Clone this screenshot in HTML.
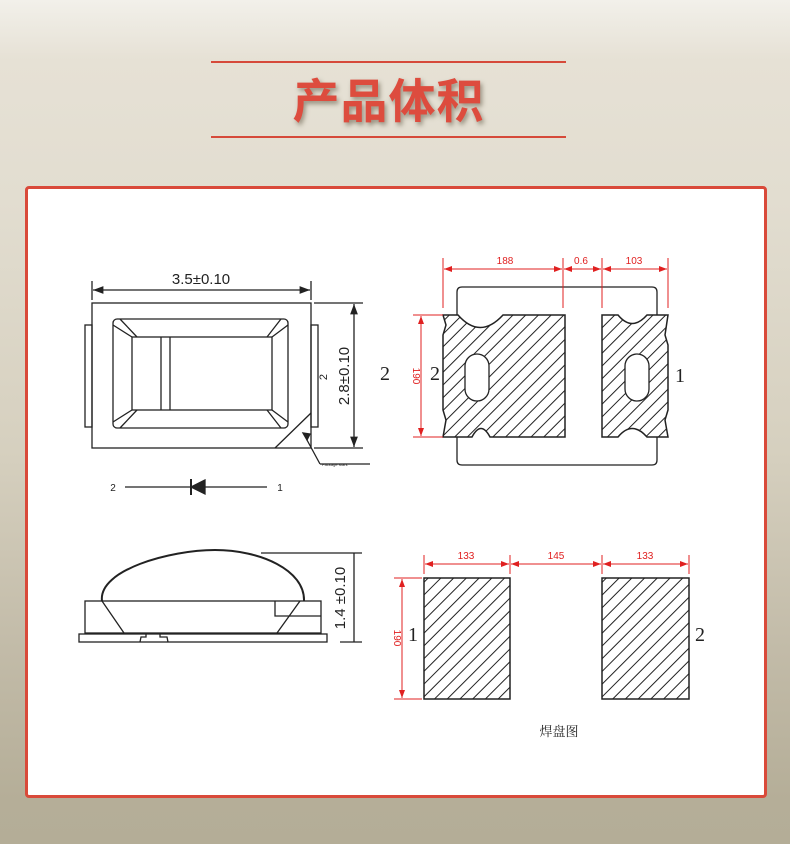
<!DOCTYPE html>
<html><head><meta charset="utf-8"><style>
html,body{margin:0;padding:0}
body{width:790px;height:844px;position:relative;overflow:hidden;background:linear-gradient(#f2f0ea 0px,#e6e1d5 60px,#e2ddd0 200px,#d6d0bf 450px,#c2bba8 650px,#b5ae98 800px,#b4ad97 844px);font-family:"Liberation Sans","Noto Sans CJK SC",sans-serif}
.ln{position:absolute;left:211px;width:355px;height:2px;background:#d64a3a}
.title{position:absolute;left:211px;width:355px;top:70px;text-align:center;font-size:47px;font-weight:bold;color:#dd4c3e;letter-spacing:1px;text-shadow:2px 3px 5px rgba(90,80,60,.55);font-family:"Noto Sans CJK SC",sans-serif;line-height:56px}
.panel{position:absolute;left:25px;top:186px;width:736px;height:606px;background:#fff;border:3px solid #d94a3a;border-radius:4px}
svg{position:absolute;left:0;top:0}
</style></head><body>
<div class="ln" style="top:61px"></div>
<div class="title">产品体积</div>
<div class="ln" style="top:136px"></div>
<div class="panel"></div>
<svg width="790" height="844" viewBox="0 0 790 844">
<defs>
<pattern id="h" patternUnits="userSpaceOnUse" width="9" height="9" patternTransform="rotate(45)">
<rect width="9" height="9" fill="#fff"/><line x1="0" y1="0" x2="0" y2="9" stroke="#222" stroke-width="2"/>
</pattern>
<marker id="a" markerWidth="8" markerHeight="6" refX="8" refY="3" orient="auto-start-reverse"><path d="M0,0 L8,3 L0,6z" fill="#e02020"/></marker>
<marker id="k" markerWidth="8" markerHeight="6" refX="8" refY="3" orient="auto-start-reverse"><path d="M0,0 L8,3 L0,6z" fill="#222"/></marker>
</defs>
<g fill="none" stroke="#222" stroke-width="1.3">
<!-- top view -->
<line x1="92" y1="281" x2="92" y2="300"/><line x1="311" y1="281" x2="311" y2="300"/>
<line x1="93" y1="290" x2="310" y2="290" marker-start="url(#k)" marker-end="url(#k)"/>
<rect x="92" y="303" width="219" height="145"/>
<rect x="85" y="325" width="7" height="102"/><rect x="311" y="325" width="7" height="102"/>
<rect x="113" y="319" width="175" height="109" rx="4"/>
<rect x="132" y="337" width="140" height="73"/>
<line x1="161" y1="337" x2="161" y2="410"/><line x1="170" y1="337" x2="170" y2="410"/>
<path d="M113,325 L132,337 M120,319 L137,337 M288,325 L272,337 M281,319 L267,337 M113,422 L132,410 M120,428 L137,410 M288,422 L272,410 M281,428 L267,410"/>
<line x1="275" y1="448" x2="311" y2="413"/>
<path d="M320,464 L307,440 M320,464 L370,464"/>
<path d="M303,433 l4,7 l3,-6z" fill="#222"/>
<line x1="314" y1="303" x2="363" y2="303"/><line x1="314" y1="448" x2="363" y2="448"/>
<line x1="354" y1="304" x2="354" y2="447" marker-start="url(#k)" marker-end="url(#k)"/>
<line x1="125" y1="487" x2="267" y2="487" stroke-width="1.2"/>
<path d="M205,480 L191,487 L205,494z" fill="#222"/><line x1="191" y1="479" x2="191" y2="495" stroke-width="2"/>
<!-- side view -->
<rect x="79" y="634" width="248" height="8"/>
<rect x="85" y="601" width="236" height="32"/>
<path d="M102,601 C98,570 170,550 215,550 C260,550 305,570 304,601" stroke-width="2"/>
<path d="M102,601 L124,633 M300,601 L277,633"/>
<path d="M275,601 L275,616 L321,616"/>
<path d="M140,642 L141,637 L146,637 L146,634 M160,634 L160,637 L167,637 L168,642"/>
<line x1="261" y1="553" x2="362" y2="553"/><line x1="340" y1="642" x2="362" y2="642"/>
<line x1="354" y1="553" x2="354" y2="642"/>
<!-- pad layout top-right -->
<path d="M457,315 L457,292 Q457,287 462,287 L652,287 Q657,287 657,292 L657,315 M457,437 L457,460 Q457,465 462,465 L652,465 Q657,465 657,460 L657,437"/>
<path d="M443,315 L458,315 Q480,340 503,315 L565,315 L565,437 L490,437 Q481,420 472,437 L443,437 L446,420 L443,410 L443,335 L446,325 Z" fill="url(#h)" stroke-width="1.5"/>
<rect x="465" y="354" width="24" height="47" rx="12" fill="#fff"/>
<path d="M602,315 L618,315 Q632,332 647,315 L668,315 L665,335 L668,345 L668,410 L665,420 L668,437 L647,437 Q632,420 618,437 L602,437 Z" fill="url(#h)" stroke-width="1.5"/>
<rect x="625" y="354" width="24" height="47" rx="12" fill="#fff"/>
<!-- bottom pads -->
<rect x="424" y="578" width="86" height="121" fill="url(#h)" stroke-width="1.5"/>
<rect x="602" y="578" width="87" height="121" fill="url(#h)" stroke-width="1.5"/>
</g>
<g fill="none" stroke="#e02020" stroke-width="1">
<line x1="443" y1="258" x2="443" y2="308"/><line x1="563" y1="258" x2="563" y2="308"/><line x1="602" y1="258" x2="602" y2="308"/><line x1="668" y1="258" x2="668" y2="308"/>
<line x1="444" y1="269" x2="562" y2="269" marker-start="url(#a)" marker-end="url(#a)"/>
<line x1="564" y1="269" x2="601" y2="269" marker-start="url(#a)" marker-end="url(#a)"/>
<line x1="603" y1="269" x2="667" y2="269" marker-start="url(#a)" marker-end="url(#a)"/>
<line x1="413" y1="315" x2="443" y2="315"/><line x1="413" y1="437" x2="443" y2="437"/>
<line x1="421" y1="316" x2="421" y2="436" marker-start="url(#a)" marker-end="url(#a)"/>
<line x1="424" y1="555" x2="424" y2="574"/><line x1="510" y1="555" x2="510" y2="574"/><line x1="602" y1="555" x2="602" y2="574"/><line x1="689" y1="555" x2="689" y2="574"/>
<line x1="425" y1="564" x2="509" y2="564" marker-start="url(#a)" marker-end="url(#a)"/>
<line x1="511" y1="564" x2="601" y2="564" marker-start="url(#a)" marker-end="url(#a)"/>
<line x1="603" y1="564" x2="688" y2="564" marker-start="url(#a)" marker-end="url(#a)"/>
<line x1="394" y1="578" x2="422" y2="578"/><line x1="394" y1="699" x2="422" y2="699"/>
<line x1="402" y1="579" x2="402" y2="698" marker-start="url(#a)" marker-end="url(#a)"/>
</g>
<g font-family="Liberation Sans,sans-serif" fill="#222">
<text x="201" y="284" font-size="15" text-anchor="middle">3.5±0.10</text>
<text x="349" y="376" font-size="15" text-anchor="middle" transform="rotate(-90 349 376)">2.8±0.10</text>
<text x="327" y="377" font-size="11" text-anchor="middle" transform="rotate(-90 327 377)">2</text>
<text x="345" y="598" font-size="15" text-anchor="middle" transform="rotate(-90 345 598)">1.4 ±0.10</text>
<text x="322" y="466" font-size="4">Package Mark</text>
<text x="113" y="491" font-size="10" text-anchor="middle">2</text>
<text x="280" y="491" font-size="10" text-anchor="middle">1</text>
</g>
<g font-family="Liberation Serif,serif" fill="#222" font-size="20">
<text x="385" y="380" text-anchor="middle">2</text>
<text x="435" y="380" text-anchor="middle">2</text>
<text x="680" y="382" text-anchor="middle">1</text>
<text x="413" y="641" text-anchor="middle">1</text>
<text x="700" y="641" text-anchor="middle">2</text>
</g>
<g font-family="Liberation Sans,sans-serif" fill="#e02020" font-size="10" text-anchor="middle">
<text x="505" y="264">188</text><text x="581" y="264">0.6</text><text x="634" y="264">103</text>
<text x="466" y="559">133</text><text x="556" y="559">145</text><text x="645" y="559">133</text>
<text x="413" y="376" transform="rotate(90 413 376)">190</text>
<text x="394" y="638" transform="rotate(90 394 638)">190</text>
</g>
<text x="559" y="736" font-size="13" text-anchor="middle" fill="#222" font-family="Noto Serif CJK SC,serif">焊盘图</text>
</svg>
</body></html>
